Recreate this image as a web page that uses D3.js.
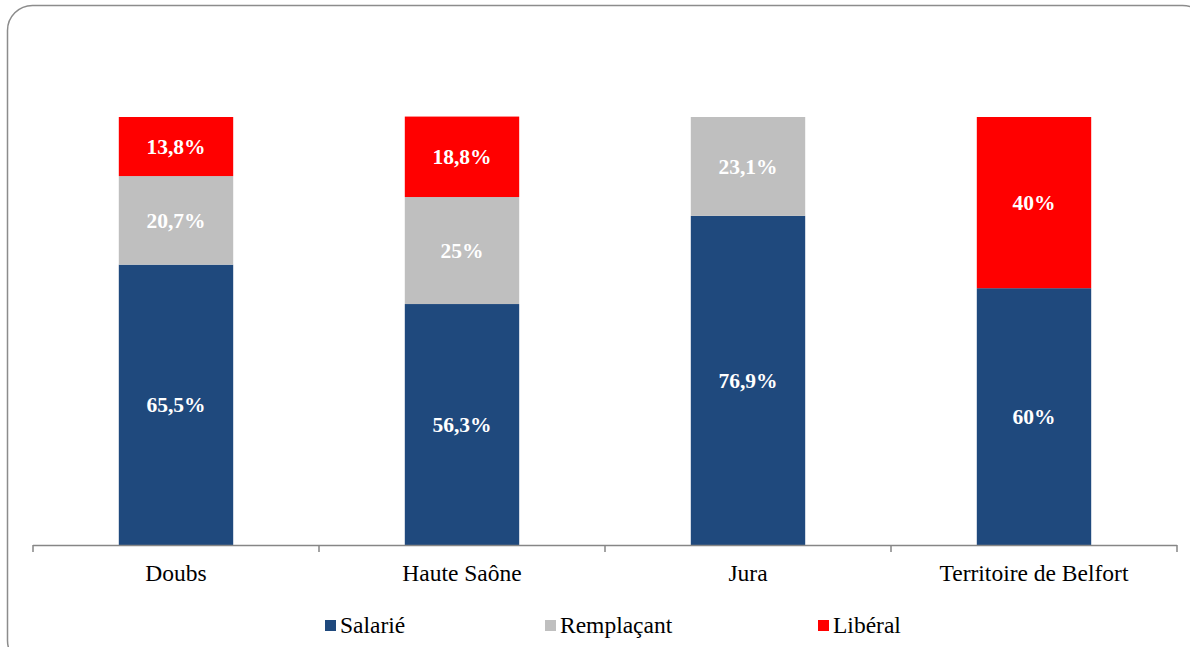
<!DOCTYPE html>
<html><head><meta charset="utf-8">
<script src="https://cdn.jsdelivr.net/npm/d3@7"></script>
<style>body{margin:0;background:#fff}svg{display:block}</style>
</head><body>
<svg id="c" width="1190" height="647"></svg>
<script>
const categories = ["Doubs", "Haute Saône", "Jura", "Territoire de Belfort"];
const seriesNames = ["Salarié", "Remplaçant", "Libéral"];
const salarie = [65.5, 56.3, 76.9, 60];
const remplacant = [20.7, 25, 23.1, 0];
const liberal = [13.8, 18.8, 0, 40];
const colors = ["#1F497D", "#BFBFBF", "#FF0000"];
const seriesValues = [salarie, remplacant, liberal];

const FONT = "'Liberation Serif', serif";
const svg = d3.select("#c");

// frame
svg.append("rect").attr("x", 7.5).attr("y", 5.5).attr("width", 1200).attr("height", 660)
  .attr("rx", 25).attr("ry", 25).attr("fill", "none").attr("stroke", "#8c8c8c").attr("stroke-width", 1.5);

const x0 = 33, x1 = 1177, yBase = 545, yTop = 117;
const x = d3.scaleBand().domain(categories).range([x0, x1]).paddingInner(0.6).paddingOuter(0.3);
const y = d3.scaleLinear().domain([0, 100]).range([yBase, yTop]);

const table = categories.map((c, i) => ({cat: c, idx: i, "Salarié": salarie[i], "Remplaçant": remplacant[i], "Libéral": liberal[i]}));
const stack = d3.stack().keys(seriesNames)(table);

const g = svg.append("g");
stack.forEach((layer, li) => {
  layer.forEach(d => {
    const v = seriesValues[li][d.data.idx];
    if (v <= 0) return;
    g.append("rect").attr("x", x(d.data.cat)).attr("width", x.bandwidth())
      .attr("y", y(d[1])).attr("height", y(d[0]) - y(d[1])).attr("fill", colors[li]);
    g.append("text").attr("x", x(d.data.cat) + x.bandwidth() / 2)
      .attr("y", (y(d[0]) + y(d[1])) / 2).attr("dy", "0.35em")
      .attr("text-anchor", "middle").attr("fill", "#fff").attr("font-weight", "bold")
      .attr("font-family", FONT).attr("font-size", 21.5)
      .text(String(v).replace(".", ",") + "%");
  });
});

// axis
const axisG = svg.append("g");
axisG.append("line").attr("x1", x0).attr("x2", x1).attr("y1", yBase + 0.5).attr("y2", yBase + 0.5)
  .attr("stroke", "#868686").attr("stroke-width", 1.5);
const tickPos = d3.scaleLinear().domain([0, categories.length]).range([x0, x1]);
d3.range(categories.length + 1).forEach(i => {
  axisG.append("line").attr("x1", tickPos(i)).attr("x2", tickPos(i)).attr("y1", yBase).attr("y2", yBase + 7)
    .attr("stroke", "#868686").attr("stroke-width", 1.5);
});
categories.forEach(c => {
  axisG.append("text").attr("x", x(c) + x.bandwidth() / 2).attr("y", 581)
    .attr("text-anchor", "middle").attr("font-family", FONT).attr("font-size", 23.5).attr("fill", "#000").text(c);
});

// legend
const legX = [325, 545, 818];
const leg = svg.append("g");
seriesNames.forEach((s, i) => {
  leg.append("rect").attr("x", legX[i]).attr("y", 620).attr("width", 11).attr("height", 11).attr("fill", colors[i]);
  leg.append("text").attr("x", legX[i] + 15).attr("y", 633).attr("font-family", FONT).attr("font-size", 23.5)
    .attr("fill", "#000").text(s);
});
</script>
</body></html>
